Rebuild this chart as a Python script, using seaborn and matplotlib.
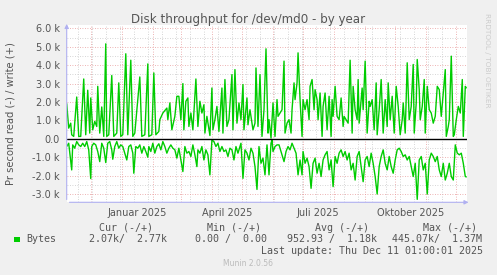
import numpy as np
import pandas as pd
import matplotlib
matplotlib.use("Agg")
import matplotlib.pyplot as plt
import matplotlib.dates as mdates
from matplotlib.ticker import MultipleLocator, FuncFormatter, FixedLocator
from matplotlib.patches import Rectangle
import seaborn as sns

# ---------------- data ----------------
start_date = "2024-11-07"
last_update = "Last update: Thu Dec 11 01:00:01 2025"
title = "Disk throughput for /dev/md0 - by year"
ylabel = "Pr second read (-) / write (+)"
series_name = "Bytes"

write_day = [0, 2, 4, 5, 7, 10, 12, 14, 17, 19, 21, 23, 24, 26, 28, 30, 31, 33, 35, 37,
             39, 40, 42, 45, 47, 50, 52, 54, 56, 59, 61, 64, 66, 68, 73, 75, 78, 81, 82, 85,
             87, 89, 92, 93, 96, 100, 101, 103, 105, 108, 110, 112, 114, 116, 117, 119, 121, 122, 124, 126,
             129, 131, 133, 135, 137, 138, 140, 143, 145, 146, 148, 150, 152, 155, 156, 158, 160, 162, 165, 166,
             168, 170, 172, 174, 176, 177, 180, 181, 183, 186, 188, 189, 191, 193, 195, 197, 199, 201, 202, 204,
             206, 208, 210, 211, 215, 217, 218, 220, 222, 224, 225, 227, 228, 230, 231, 233, 235, 236, 238, 240,
             242, 243, 245, 247, 248, 250, 251, 253, 255, 256, 258, 260, 262, 264, 265, 266, 268, 270, 272, 274,
             276, 277, 279, 281, 283, 285, 286, 288, 290, 291, 292, 295, 296, 298, 300, 302, 303, 305, 307, 309,
             310, 312, 314, 316, 318, 320, 321, 323, 325, 327, 329, 331, 333, 335, 336, 338, 340, 342, 344, 346,
             347, 349, 350, 352, 353, 355, 357, 358, 360, 362, 364, 366, 368, 370, 372, 374, 376, 378, 379, 381,
             382, 384, 386, 387, 389, 391, 393, 395, 396, 398, 399]
write_val = [1910, 580, 850, 220, 130, 2270, 130, 130, 3250, 220, 2640, 310, 2220, 490, 950, 670, 2850, 310, 1730, 130,
             5160, 130, 220, 3440, 130, 310, 3040, 130, 220, 4620, 220, 4270, 130, 310, 3360, 130, 220, 4070, 130, 220,
             3580, 220, 400, 1040, 1400, 1670, 1040, 1950, 490, 1220, 2310, 2310, 1040, 3000, 490, 2040, 2220, 670, 1400, 490,
             3250, 670, 2040, 1400, 1850, 310, 1220, 180, 2760, 490, 1040, 1760, 400, 2760, 310, 3220, 670, 1040, 3490, 490,
             3760, 850, 1950, 1040, 2950, 490, 2220, 760, 1580, 490, 850, 3850, 670, 3490, 130, 1580, 4890, 310, 1040, 40,
             1950, 130, 2130, 1220, 1580, 4220, 310, 850, 1040, 310, 1580, 3040, 2130, 3040, 4670, 2130, 130, 2130, 1580, 2130,
             1040, 2850, 3220, 1580, 2670, 2130, 1040, 2490, 130, 1760, 2490, 490, 2310, 130, 2130, 1220, 2850, 1220, 1040, 2220,
             670, 1220, 1040, 850, 4270, 310, 2850, 1580, 1040, 3220, 850, 2760, 1580, 4220, 310, 2040, 1760, 2130, 490, 3040,
             220, 1580, 3220, 310, 2130, 670, 3040, 1040, 2310, 310, 2850, 1760, 220, 1040, 1950, 310, 4130, 1040, 1760, 4040,
             310, 1950, 4310, 2670, 1040, 1760, 3220, 310, 2850, 1580, 1400, 850, 1220, 2850, 2670, 1220, 2490, 3760, 130, 670,
             1040, 4490, 130, 220, 1040, 1760, 1400, 3220, 130, 2850, 2770]

read_day = [0, 2, 5, 6, 8, 10, 12, 14, 16, 18, 20, 22, 24, 25, 27, 29, 31, 33, 35, 37,
            39, 41, 43, 45, 46, 48, 50, 52, 54, 56, 58, 60, 62, 64, 66, 67, 69, 71, 73, 75,
            77, 79, 81, 82, 84, 86, 88, 90, 92, 94, 96, 98, 100, 102, 104, 106, 108, 110, 112, 114,
            116, 118, 120, 122, 124, 126, 128, 130, 131, 133, 135, 137, 139, 141, 143, 145, 147, 149, 151, 153,
            155, 157, 159, 161, 163, 165, 167, 169, 171, 173, 174, 176, 178, 180, 182, 184, 186, 188, 190, 192,
            194, 196, 198, 200, 202, 204, 205, 206, 208, 210, 212, 217, 219, 221, 223, 225, 227, 229, 231, 233,
            235, 236, 238, 240, 242, 244, 246, 248, 250, 252, 254, 256, 258, 260, 262, 264, 266, 268, 270, 272,
            274, 276, 278, 280, 282, 284, 286, 288, 290, 292, 294, 296, 298, 300, 302, 304, 306, 308, 310, 312,
            314, 316, 318, 320, 322, 324, 326, 328, 330, 332, 334, 336, 338, 340, 342, 344, 346, 348, 350, 352,
            354, 356, 358, 360, 362, 364, 366, 368, 370, 372, 374, 376, 378, 380, 382, 384, 386, 388, 390, 392,
            394, 396, 398, 399]
read_val = [420, 240, 1690, 330, 510, 150, 330, 420, 240, 420, 150, 600, 2160, 420, 240, 330, 690, 1240, 240, 510,
            1290, 240, 150, 600, 1110, 420, 150, 510, 330, 420, 780, 1150, 420, 330, 780, 1870, 420, 510, 330, 780,
            420, 690, 1000, 420, 690, 240, 780, 420, 270, 600, 150, 420, 780, 510, 330, 510, 600, 1050, 510, 1150,
            1780, 420, 780, 690, 960, 330, 870, 1510, 600, 780, 420, 1150, 600, 870, 1960, 60, 150, 420, 240, 690,
            420, 690, 600, 960, 510, 600, 1150, 420, 780, 420, 240, 2150, 600, 780, 1150, 510, 780, 1510, 2750, 420,
            1330, 1050, 1960, 330, 1960, 240, 60, 690, 420, 330, 330, 1240, 690, 420, 600, 240, 510, 780, 1960, 1150,
            1960, 690, 1330, 1050, 1510, 2690, 1330, 1050, 1870, 1330, 2050, 1150, 870, 690, 1690, 1150, 2600, 960, 1330, 780,
            600, 960, 690, 1150, 780, 1690, 1330, 2240, 960, 690, 1510, 2330, 1150, 960, 1510, 780, 1330, 2050, 3000, 1510,
            960, 600, 1330, 1690, 960, 1510, 1870, 1150, 600, 510, 690, 960, 870, 1150, 960, 1510, 2050, 1330, 3290, 1150,
            960, 1690, 1330, 3000, 1150, 780, 960, 1240, 960, 1690, 2050, 1330, 2240, 1870, 1330, 2050, 2240, 330, 780, 870,
            780, 1330, 2050, 2070]

month_names = ["Januar", "Februar", "März", "April", "Mai", "Juni", "Juli",
               "August", "September", "Oktober", "November", "Dezember"]
legend_headers = ["Cur (-/+)", "Min (-/+)", "Avg (-/+)", "Max (-/+)"]
legend_values = ["2.07k/  2.77k", "0.00 /  0.00", "952.93 /  1.18k", "445.07k/  1.37M"]
version_text = "Munin 2.0.56"
side_text = "RRDTOOL / TOBI OETIKER"

# ---------------- build frames ----------------
t0 = pd.Timestamp(start_date)
df_w = pd.DataFrame({"date": t0 + pd.to_timedelta(write_day, unit="D"), "value": write_val})
df_r = pd.DataFrame({"date": t0 + pd.to_timedelta(read_day, unit="D"), "value": -np.asarray(read_val)})

W, H = 497, 275
DPI = 100
sns.set_theme(style="white")
plt.rcParams["font.family"] = ["DejaVu Sans"]

fig = plt.figure(figsize=(W / DPI, H / DPI), dpi=DPI, facecolor="#F0F0F0")
px = lambda x: x / W
py = lambda y: 1 - y / H
ax = fig.add_axes([px(66.7), py(202.3), px(467.3 - 66.7), (202.3 - 24.7) / H])
ax.set_facecolor("white")

GREEN = "#00CC00"
sns.lineplot(data=df_w, x="date", y="value", ax=ax, color=GREEN, lw=1.0,
             estimator=None, sort=True, legend=False)
sns.lineplot(data=df_r, x="date", y="value", ax=ax, color=GREEN, lw=1.0,
             estimator=None, sort=True, legend=False)
ax.axhline(0, color="black", lw=1.0, zorder=3)

ax.set_xlim(t0, t0 + pd.Timedelta(days=400))
ax.set_ylim(-3450, 6200)

# grids
ax.yaxis.set_major_locator(MultipleLocator(1000))
ax.yaxis.set_minor_locator(MultipleLocator(500))
ax.xaxis.set_major_locator(mdates.MonthLocator())
biweek = pd.date_range("2024-11-04", t0 + pd.Timedelta(days=401), freq="14D")
ax.xaxis.set_minor_locator(FixedLocator(mdates.date2num(biweek)))
ax.grid(which="minor", color="#C8C8C8", lw=0.6, ls=(0, (1, 2)))
ax.grid(which="major", color="#E89A9A", lw=0.6, ls=(0, (1, 2)))
ax.set_axisbelow(True)

def yfmt(v, pos):
    if abs(v) < 1e-9:
        return "0.0"
    return f"{v/1000:.1f} k"
ax.yaxis.set_major_formatter(FuncFormatter(yfmt))
ax.tick_params(axis="y", which="both", length=0, pad=5, labelsize=7, labelcolor="#555555")
ax.tick_params(axis="x", which="both", length=0, labelbottom=False)

for s in ax.spines.values():
    s.set_visible(False)

# quarter labels centred mid-month
sec = ax.secondary_xaxis("bottom")
sec.xaxis.set_major_locator(mdates.MonthLocator(bymonth=[1, 4, 7, 10], bymonthday=16))
sec.xaxis.set_major_formatter(FuncFormatter(
    lambda v, pos: f"{month_names[mdates.num2date(v).month - 1]} {mdates.num2date(v).year}"))
sec.tick_params(length=0, pad=4, labelsize=7, labelcolor="#555555")
for s in sec.spines.values():
    s.set_visible(False)

# axis arrows
AX_COL = "#B0B0F0"
ax.annotate("", xy=(0, 1.02), xytext=(0, 0), xycoords="axes fraction",
            arrowprops=dict(arrowstyle="-|>", color=AX_COL, lw=0.8, mutation_scale=6),
            annotation_clip=False)
ax.annotate("", xy=(1.01, 0), xytext=(0, 0), xycoords="axes fraction",
            arrowprops=dict(arrowstyle="-|>", color=AX_COL, lw=0.8, mutation_scale=6),
            annotation_clip=False)

ax.set_xlabel("")
ax.set_ylabel("")
fig.text(px(11), py(114), ylabel, rotation=90, ha="center", va="center",
         fontsize=7.2, color="#555555")
fig.text(px(248.5), py(19.5), title, ha="center", va="center", fontsize=8.6, color="#555555")
fig.text(px(487.5), py(13), side_text, rotation=270, ha="center", va="top",
         fontsize=5.3, color="#CCCCCC")

# legend block
MONO = ["DejaVu Sans Mono"]
FS = 7.2
TXT = "#555555"
fig.patches.append(Rectangle((px(14), py(242.3)), px(5.5), 5.5 / H, transform=fig.transFigure,
                             facecolor=GREEN, edgecolor="none"))
fig.text(px(26.7), py(239.3), series_name, family=MONO, fontsize=FS, color=TXT, va="center")
hdr_x = [98.7, 207, 315, 423]
val_x = [89, 194.7, 287, 392]
for h, hx in zip(legend_headers, hdr_x):
    fig.text(px(hx), py(227.7), h, family=MONO, fontsize=FS, color=TXT, va="center")
for v, vx in zip(legend_values, val_x):
    fig.text(px(vx), py(239.3), v, family=MONO, fontsize=FS, color=TXT, va="center")
fig.text(px(483), py(251), last_update, family=MONO, fontsize=FS, color=TXT, va="center", ha="right")
fig.text(px(248), py(264), version_text, fontsize=5.5, color="#BBBBBB", va="center", ha="center")

fig.savefig("out.png", dpi=DPI, facecolor=fig.get_facecolor())
